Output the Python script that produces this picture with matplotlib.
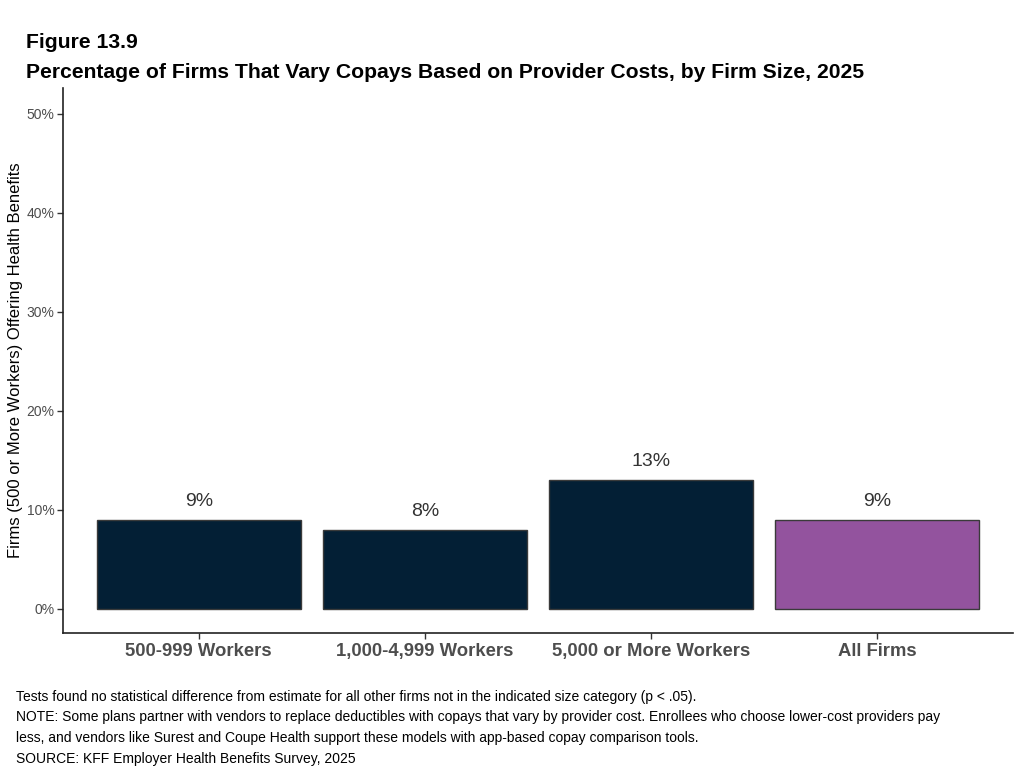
import numpy as np
import matplotlib.pyplot as plt

plt.rcParams['font.family'] = ['Liberation Sans', 'DejaVu Sans']

categories = ['500-999 Workers', '1,000-4,999 Workers', '5,000 or More Workers', 'All Firms']
values = [9, 8, 13, 9]
labels = ['9%', '8%', '13%', '9%']
colors = ['#031f35', '#031f35', '#031f35', '#93539e']
yticks = [0, 10, 20, 30, 40, 50]

fig = plt.figure(figsize=(10.23, 7.7), dpi=100)
ax = fig.add_axes([0.0616, 0.178, 0.9286, 0.7077])

x = np.arange(len(categories))
ax.bar(x, values, width=0.9, color=colors, edgecolor='#3a3a3a', linewidth=1)
for xi, v, lab in zip(x, values, labels):
    ax.text(xi, v + 1.0, lab, ha='center', va='bottom', fontsize=14, color='#333333')

ax.set_xlim(-0.6, 3.6)
ax.set_ylim(-2.42, 52.6)
ax.set_xticks(x)
ax.set_xticklabels(categories, fontsize=13.3, fontweight='bold', color='#4d4d4d')
ax.set_yticks(yticks)
ax.set_yticklabels([f'{t}%' for t in yticks], fontsize=10, color='#4d4d4d')
ax.tick_params(axis='both', length=4, color='#333333', width=1)
ax.tick_params(axis='y', pad=2)
ax.tick_params(axis='x', pad=3)
ax.set_ylabel('Firms (500 or More Workers) Offering Health Benefits', fontsize=12, color='black', labelpad=3)

for s in ['top', 'right']:
    ax.spines[s].set_visible(False)
for s in ['left', 'bottom']:
    ax.spines[s].set_color('#222222')
    ax.spines[s].set_linewidth(1.2)

fig.text(0.025, 1 - 43 / 770, 'Figure 13.9', fontsize=15.2, fontweight='bold', va='center')
fig.text(0.025, 1 - 73 / 770, 'Percentage of Firms That Vary Copays Based on Provider Costs, by Firm Size, 2025',
         fontsize=15.2, fontweight='bold', va='center')

notes = [
    'Tests found no statistical difference from estimate for all other firms not in the indicated size category (p < .05).',
    'NOTE: Some plans partner with vendors to replace deductibles with copays that vary by provider cost. Enrollees who choose lower-cost providers pay',
    'less, and vendors like Surest and Coupe Health support these models with app-based copay comparison tools.',
    'SOURCE: KFF Employer Health Benefits Survey, 2025',
]
for i, line in enumerate(notes):
    fig.text(0.016, 1 - (697 + i * 20.5) / 770, line, fontsize=10, va='center')

fig.savefig('out.png', dpi=100)
